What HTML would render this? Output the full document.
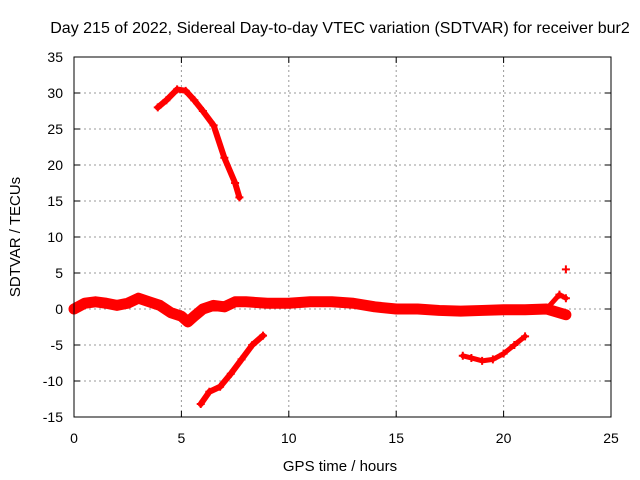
<!DOCTYPE html>
<html><head><meta charset="utf-8"><style>
body{margin:0;background:#fff}
svg{display:block;font-family:"Liberation Sans",sans-serif}
</style></head><body>
<svg id="chart" width="640" height="480">
<text x="340" y="33" font-size="16" text-anchor="middle">Day 215 of 2022, Sidereal Day-to-day VTEC variation (SDTVAR) for receiver bur2</text>
<text x="340" y="471" font-size="15" text-anchor="middle">GPS time / hours</text>
<text transform="translate(20,237) rotate(-90)" font-size="15" text-anchor="middle">SDTVAR / TECUs</text>
<g id="grid"></g><g id="ticks"></g><g id="series"></g>
<rect x="74" y="57" width="537" height="360" fill="none" stroke="#000"/>
</svg>
<script>
const xTicks=[0,5,10,15,20,25];
const yTicks=[-15,-10,-5,0,5,10,15,20,25,30,35];
const mainX=[0,0.5,1,1.5,2,2.5,3,3.5,4,4.5,5,5.3,5.6,6,6.5,7,7.5,8,9,10,11,12,13,14,15,16,17,18,19,20,21,22,22.9];
const mainY=[0,0.8,1,0.8,0.5,0.8,1.5,1,0.5,-0.5,-1,-1.8,-1,0,0.5,0.3,1,1,0.8,0.8,1,1,0.8,0.3,0,0,-0.2,-0.3,-0.2,-0.1,-0.1,0,-0.8];
const riseX=[22,22.6,22.9];
const riseY=[0,2,1.5];
const upperX=[3.9,4.3,4.8,5.2,5.6,6,6.5,7,7.5,7.7];
const upperY=[28,29,30.5,30.3,29,27.5,25.5,21,17.5,15.5];
const lowerX=[5.9,6.3,6.8,7.3,7.8,8.3,8.8];
const lowerY=[-13.2,-11.5,-10.8,-9,-7,-5,-3.7];
const eveX=[18.1,18.5,19,19.5,20,20.5,21];
const eveY=[-6.5,-6.8,-7.2,-7,-6.2,-5,-3.8];
const outX=[22.9];
const outY=[5.5];
const X0=74,X1=611,Y0=417,Y1=57;
const sx=v=>X0+(v-0)/(25-0)*(X1-X0);
const sy=v=>Y0-(v+15)/50*(Y0-Y1);
const NS="http://www.w3.org/2000/svg";
const grid=document.getElementById('grid'),ticks=document.getElementById('ticks'),ser=document.getElementById('series');
function mk(tag,attrs,parent){const e=document.createElementNS(NS,tag);for(const k in attrs)e.setAttribute(k,attrs[k]);parent.appendChild(e);return e;}
xTicks.forEach(t=>{
  if(t>0&&t<25){const g=mk('line',{x1:sx(t),x2:sx(t),y1:Y0,y2:Y1,stroke:'#999','stroke-dasharray':'2,3'},grid);
  
  }
  const l=mk('line',{x1:sx(t),x2:sx(t),y1:Y0,y2:Y0-6,stroke:'#000'},ticks);
  
  
  const l2=mk('line',{x1:sx(t),x2:sx(t),y1:Y1,y2:Y1+6,stroke:'#000'},ticks);
  
  
  const tx=mk('text',{x:sx(t),y:Y0+26,'font-size':14,'text-anchor':'middle'},ticks);tx.textContent=t;
  
  
});
yTicks.forEach(t=>{
  if(t>-15&&t<35){const g=mk('line',{x1:X0,x2:X1,y1:sy(t),y2:sy(t),stroke:'#999','stroke-dasharray':'2,3'},grid);
  
  }
  const l=mk('line',{x1:X0,x2:X0+6,y1:sy(t),y2:sy(t),stroke:'#000'},ticks);
  
  
  const l2=mk('line',{x1:X1,x2:X1-6,y1:sy(t),y2:sy(t),stroke:'#000'},ticks);
  
  
  const tx=mk('text',{x:X0-11,y:sy(t)+5,'font-size':14,'text-anchor':'end'},ticks);tx.textContent=t;
  
  
});
function series(xs,ys,w,name){
  const p=mk('polyline',{points:xs.map((x,i)=>sx(x)+','+sy(ys[i])).join(' '),fill:'none',stroke:'#f00','stroke-width':w,'stroke-linejoin':'round','stroke-linecap':'round'},ser);
  
  
  xs.forEach((x,i)=>{const cx=sx(x),cy=sy(ys[i]);
    const m=mk('path',{d:`M${cx-4},${cy}H${cx+4}M${cx},${cy-4}V${cy+4}`,stroke:'#f00','stroke-width':2},ser);
    
    });
}
series(mainX,mainY,11,'main-band');
series(riseX,riseY,5,'late-rise');
series(upperX,upperY,6,'upper-arc');
series(lowerX,lowerY,6,'lower-rise');
series(eveX,eveY,5,'evening-arc');
series(outX,outY,1,'outlier');
</script>
</body></html>
